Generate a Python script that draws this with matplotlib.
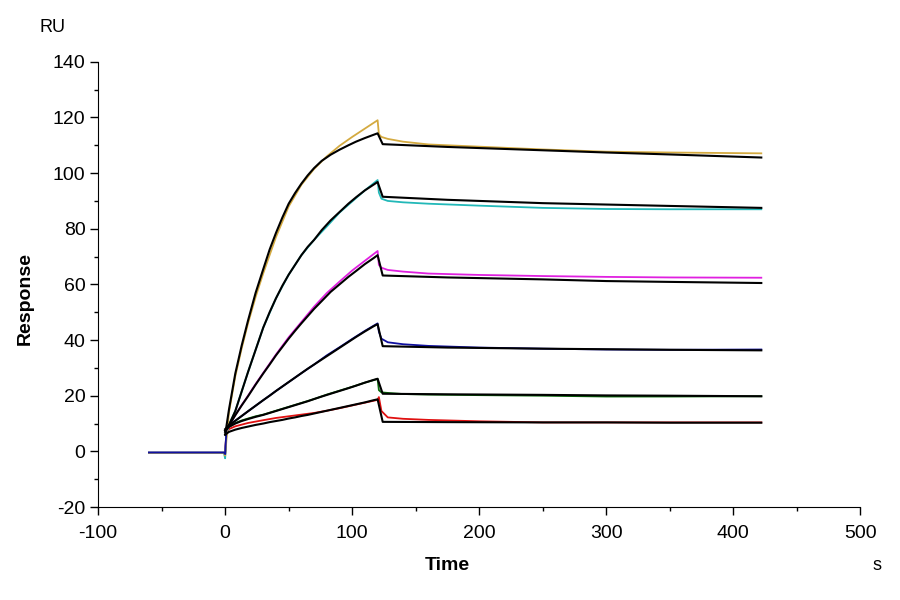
import matplotlib
matplotlib.use("Agg")
import matplotlib.pyplot as plt
from matplotlib.ticker import MultipleLocator

plt.rcParams['font.family'] = ['Liberation Sans', 'DejaVu Sans']
plt.rcParams['axes.unicode_minus'] = False

# measured curves (time in s, response in RU)
t_data = [-60, -1, 0, 1, 3, 8, 13, 18, 24, 30, 40, 50, 60, 70, 80, 90, 100, 110, 120,
          121, 123, 128, 140, 160, 200, 250, 300, 350, 422]
yellow_data = [-0.5, -0.5, -1.5, 4, 14, 27, 37, 46, 55.5, 64, 77, 88, 95.8, 101.5, 106,
               109.8, 113, 116, 119, 114, 113, 112.3, 111.3, 110.3, 109.5, 108.5, 107.7,
               107.4, 107.1]
cyan_data = [-0.5, -0.5, -2.5, 6, 9.5, 14.5, 21.5, 28.5, 36.5, 44.5, 55, 63.5, 70.5, 76,
             80.8, 85.8, 89.8, 93.8, 97.5, 93, 90.8, 90.0, 89.5, 89.0, 88.3, 87.5, 87.1,
             87.0, 87.0]
magenta_data = [-0.5, -0.5, -1, 7, 9.3, 13, 16.6, 20, 24.2, 28.2, 34.8, 41, 46.5, 52,
                56.9, 61, 65, 68.5, 72, 67, 66, 65.2, 64.6, 63.9, 63.4, 63.0, 62.7, 62.5,
                62.4]
blue_data = [-0.4, -0.4, -1, 7.5, 9.3, 11, 12.7, 14.4, 16.4, 18.4, 21.7, 24.9, 28.1, 31.2,
             34.5, 37.4, 40.4, 43.3, 46, 43, 40.5, 39.2, 38.5, 37.9, 37.3, 36.9, 36.6,
             36.5, 36.6]
green_data = [-0.5, -0.5, -1, 7.5, 8.8, 10.2, 11.1, 11.8, 12.6, 13.2, 14.6, 16, 17.4,
              18.8, 20.4, 21.8, 23.2, 24.7, 26, 22, 21.2, 21.0, 20.6, 20.4, 20.2, 20.0,
              19.7, 19.7, 19.8]
red_data = [-0.6, -0.6, -1, 7, 8, 9, 9.6, 10.2, 10.7, 11.2, 12, 12.6, 13.2, 13.8, 14.6,
            15.5, 16.5, 17.5, 18.5, 19.5, 14.5, 12.2, 11.7, 11.3, 10.8, 10.4, 10.4, 10.4,
            10.4]

# fitted curves
t_fit = [0, 3, 8, 13, 18, 24, 30, 35, 40, 45, 50, 55, 60, 65, 70, 76, 83, 90, 97, 103,
         110, 117, 120, 124, 175, 250, 300, 350, 422]
yellow_fit = [6, 15, 28, 38, 47, 57, 65.5, 72.5, 78.5, 84, 89, 92.8, 96.2, 99.2, 101.8,
              104.4, 106.6, 108.4, 110, 111.3, 112.6, 113.8, 114.3,
              110.4, 109.4, 108.2, 107.4, 106.7, 105.6]
cyan_fit = [7, 9.5, 14.5, 21.5, 28.5, 36.5, 44.5, 50, 55, 59.5, 63.5, 67, 70.5, 73.5, 76,
            79.5, 83, 86, 89, 91.3, 93.8, 95.9, 96.8,
            91.5, 90.4, 89.2, 88.7, 88.2, 87.5]
magenta_fit = [7.5, 9.3, 13, 16.5, 19.8, 24, 28, 31.2, 34.5, 37.5, 40.5, 43.3, 46, 48.6,
               51.2, 54, 57.3, 60, 62.7, 64.8, 67.3, 69.5, 70.5,
               63.2, 62.5, 61.8, 61.2, 60.9, 60.5]
blue_fit = [8, 9.3, 11, 12.7, 14.4, 16.4, 18.4, 20, 21.7, 23.3, 24.9, 26.5, 28.1, 29.7,
            31.2, 33, 35.1, 37.2, 39.3, 41.1, 43.1, 45, 45.7,
            37.8, 37.3, 36.9, 36.7, 36.5, 36.3]
green_fit = [7.5, 8.8, 10, 10.9, 11.6, 12.4, 13.1, 13.8, 14.5, 15.2, 15.9, 16.6, 17.3,
             18.0, 18.8, 19.7, 20.7, 21.7, 22.7, 23.6, 24.7, 25.7, 26.1,
             20.7, 20.5, 20.3, 20.1, 20.0, 19.8]
red_fit = [6, 7, 7.8, 8.4, 8.9, 9.5, 10, 10.5, 10.9, 11.3, 11.8, 12.2, 12.7, 13.1, 13.6,
           14.2, 14.9, 15.6, 16.3, 16.9, 17.6, 18.4, 18.7,
           10.6, 10.5, 10.4, 10.4, 10.3, 10.3]

fig = plt.figure(figsize=(9, 6), dpi=100)
ax = fig.add_axes([0.109, 0.155, 0.847, 0.742])

ax.plot(t_data, red_data, color='#e01010', lw=1.3)
ax.plot(t_data, green_data, color='#0a6a0a', lw=1.3)
ax.plot(t_data, magenta_data, color='#e020e0', lw=1.3)
ax.plot(t_data, cyan_data, color='#22b8b8', lw=1.3)
ax.plot(t_data, yellow_data, color='#d4aa40', lw=1.3)
ax.plot(t_data, blue_data, color='#1010a0', lw=1.3)

for fit in [yellow_fit, cyan_fit, magenta_fit, blue_fit, green_fit, red_fit]:
    ax.plot(t_fit, fit, color='black', lw=1.5)

ax.set_xlim(-100, 500)
ax.set_ylim(-20, 140)
ax.xaxis.set_major_locator(MultipleLocator(100))
ax.xaxis.set_minor_locator(MultipleLocator(50))
ax.yaxis.set_major_locator(MultipleLocator(20))
ax.yaxis.set_minor_locator(MultipleLocator(10))
ax.spines['top'].set_visible(False)
ax.spines['right'].set_visible(False)
ax.tick_params(which='major', length=6, width=1, labelsize=14)
ax.tick_params(which='minor', length=3, width=1)
ax.tick_params(axis='x', which='major', pad=7)
ax.tick_params(axis='y', which='major', pad=3)

fig.text(0.058, 0.955, 'RU', fontsize=13, ha='center', va='center')
fig.text(0.974, 0.057, 's', fontsize=13, ha='center', va='center')
fig.text(0.497, 0.057, 'Time', fontsize=14, fontweight='bold', ha='center', va='center')
fig.text(0.028, 0.503, 'Response', fontsize=14, fontweight='bold', rotation=90,
         ha='center', va='center')

fig.savefig('out.png', dpi=100)
